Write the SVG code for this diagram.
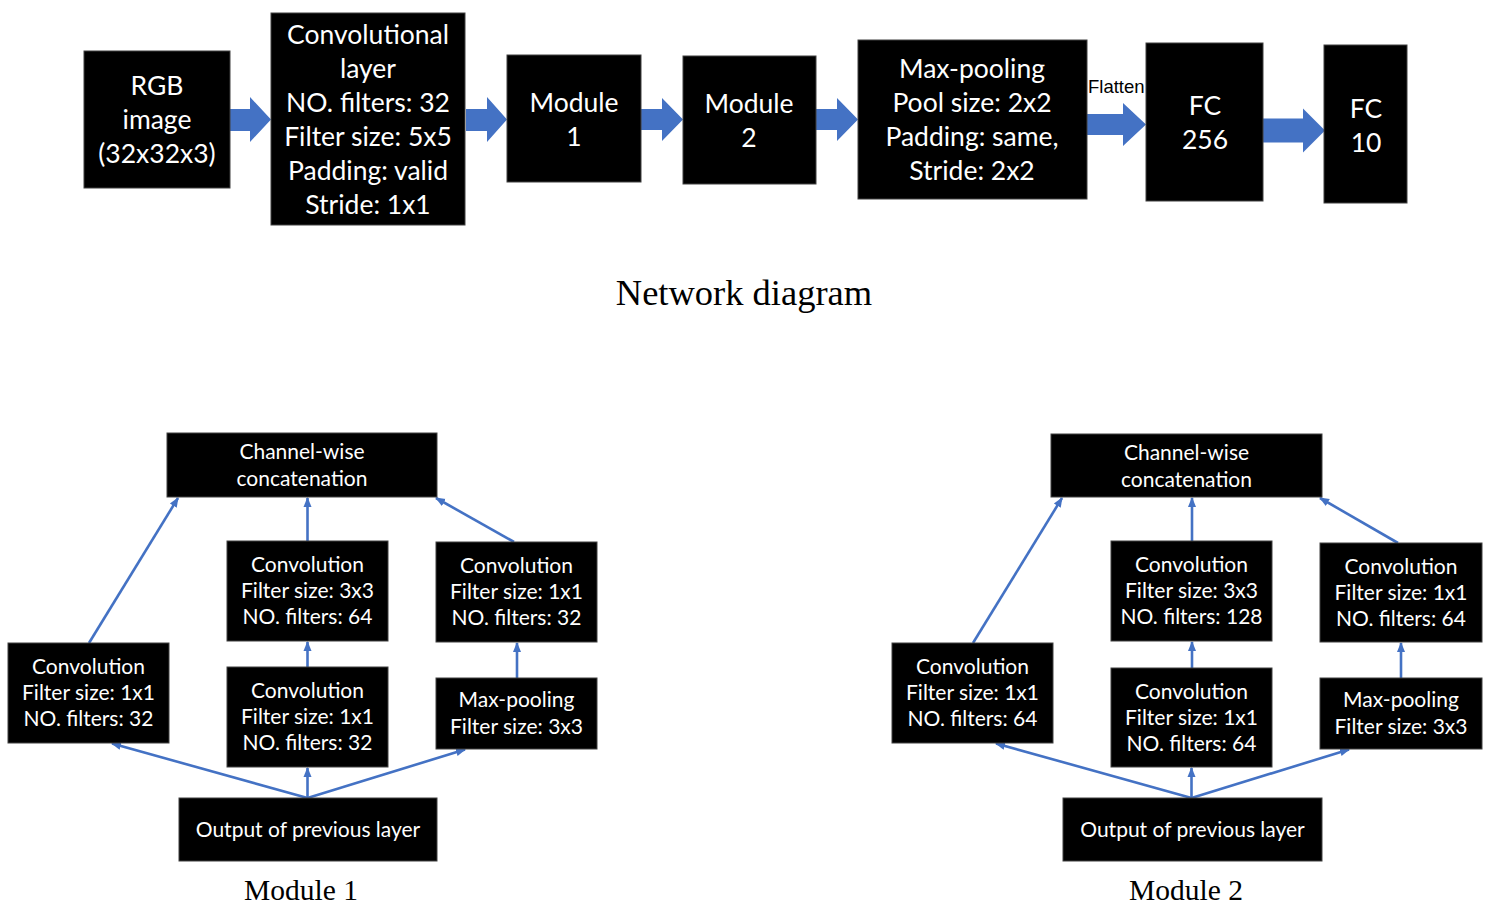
<svg xmlns="http://www.w3.org/2000/svg" width="1494" height="908" viewBox="0 0 1494 908">
<style>
.box{fill:#000;stroke:#404040;stroke-width:1}
.t{font-family:Lato,"Open Sans",sans-serif;fill:#fff;text-anchor:middle}
.big{font-size:26.5px}
.sm{font-size:21px}
.barrow{fill:#4472C4}
.con{stroke:#4472C4;stroke-width:2.6;fill:none;marker-end:url(#ah)}
.cap{font-family:"Liberation Serif",serif;fill:#000;text-anchor:middle}
</style>
<defs>
<marker id="ah" markerUnits="userSpaceOnUse" markerWidth="10" markerHeight="10" viewBox="0 0 10 10" refX="9" refY="5" orient="auto">
<path d="M0,1 L10,5 L0,9 z" fill="#4472C4"/>
</marker>
</defs>
<rect width="1494" height="908" fill="#fff"/>

<g id="connectors">
<polygon class="barrow" points="230,109 250,109 250,97 271,119.5 250,142 250,131 230,131"/>
<polygon class="barrow" points="466,109 487,109 487,97 507,119.5 487,142 487,131 466,131"/>
<polygon class="barrow" points="641,109 662,109 662,98 683,119.5 662,141 662,130 641,130"/>
<polygon class="barrow" points="816,109 837,109 837,98 858,119.5 837,141 837,130 816,130"/>
<polygon class="barrow" points="1087,114 1123,114 1123,103 1146,124.5 1123,146 1123,135 1087,135"/>
<polygon class="barrow" points="1263,118.5 1303,118.5 1303,108.5 1325,130.5 1303,152.5 1303,142.5 1263,142.5"/>
<text x="1088" y="93" font-family="'Liberation Sans',Arial,sans-serif" font-size="18.5" fill="#000">Flatten</text>

<line class="con" x1="89" y1="643" x2="178" y2="498"/>
<line class="con" x1="307.5" y1="541" x2="307.5" y2="498"/>
<line class="con" x1="514" y1="542" x2="436" y2="498"/>
<line class="con" x1="307.5" y1="667" x2="307.5" y2="642"/>
<line class="con" x1="517" y1="678" x2="517" y2="643"/>
<line class="con" x1="307.5" y1="798" x2="112" y2="743.5"/>
<line class="con" x1="307.5" y1="798" x2="307.5" y2="768"/>
<line class="con" x1="307.5" y1="798" x2="465" y2="749.5"/>

<line class="con" x1="973" y1="643" x2="1062" y2="498"/>
<line class="con" x1="1192" y1="541" x2="1192" y2="498"/>
<line class="con" x1="1398" y1="543" x2="1320" y2="498"/>
<line class="con" x1="1192" y1="668" x2="1192" y2="642"/>
<line class="con" x1="1401" y1="678" x2="1401" y2="643"/>
<line class="con" x1="1191.5" y1="798" x2="996" y2="743.5"/>
<line class="con" x1="1191.5" y1="798" x2="1191.5" y2="768"/>
<line class="con" x1="1191.5" y1="798" x2="1349" y2="749.5"/>
</g>

<g id="rgb"><rect class="box" x="84" y="51" width="146" height="137"/>
<text class="t big" x="157" y="95">RGB</text><text class="t big" x="157" y="129">image</text><text class="t big" x="157" y="163">(32x32x3)</text></g>
<g id="conv"><rect class="box" x="271" y="13" width="194" height="212"/>
<text class="t big" x="368" y="44">Convolutional</text><text class="t big" x="368" y="78">layer</text><text class="t big" x="368" y="112">NO. filters: 32</text><text class="t big" x="368" y="146">Filter size: 5x5</text><text class="t big" x="368" y="180">Padding: valid</text><text class="t big" x="368" y="214">Stride: 1x1</text></g>
<g id="module1"><rect class="box" x="507" y="55" width="134" height="127"/>
<text class="t big" x="574" y="112">Module</text><text class="t big" x="574" y="146">1</text></g>
<g id="module2"><rect class="box" x="683" y="56" width="133" height="128"/>
<text class="t big" x="749" y="113">Module</text><text class="t big" x="749" y="147">2</text></g>
<g id="maxpool"><rect class="box" x="858" y="40" width="229" height="159"/>
<text class="t big" x="972" y="78">Max-pooling</text><text class="t big" x="972" y="112">Pool size: 2x2</text><text class="t big" x="972" y="146">Padding: same,</text><text class="t big" x="972" y="180">Stride: 2x2</text></g>
<g id="fc256"><rect class="box" x="1146" y="43" width="117" height="158"/>
<text class="t big" x="1205" y="115">FC</text><text class="t big" x="1205" y="149">256</text></g>
<g id="fc10"><rect class="box" x="1324" y="45" width="83" height="158"/>
<text class="t big" x="1366" y="118">FC</text><text class="t big" x="1366" y="152">10</text></g>

<text class="cap" x="744" y="305" font-size="36.5">Network diagram</text>

<g id="m1-concat"><rect class="box" x="167" y="433" width="270" height="64"/>
<text class="t sm" x="302" y="459">Channel-wise</text><text class="t sm" x="302" y="486">concatenation</text></g>
<g id="m1-conv3"><rect class="box" x="227" y="541" width="161" height="100"/>
<text class="t sm" x="307.5" y="572">Convolution</text><text class="t sm" x="307.5" y="598">Filter size: 3x3</text><text class="t sm" x="307.5" y="624">NO. filters: 64</text></g>
<g id="m1-convr"><rect class="box" x="436" y="542" width="161" height="100"/>
<text class="t sm" x="516.5" y="573">Convolution</text><text class="t sm" x="516.5" y="599">Filter size: 1x1</text><text class="t sm" x="516.5" y="625">NO. filters: 32</text></g>
<g id="m1-convl"><rect class="box" x="8" y="643" width="161" height="100"/>
<text class="t sm" x="88.5" y="674">Convolution</text><text class="t sm" x="88.5" y="700">Filter size: 1x1</text><text class="t sm" x="88.5" y="726">NO. filters: 32</text></g>
<g id="m1-convm"><rect class="box" x="227" y="667" width="161" height="100"/>
<text class="t sm" x="307.5" y="698">Convolution</text><text class="t sm" x="307.5" y="724">Filter size: 1x1</text><text class="t sm" x="307.5" y="750">NO. filters: 32</text></g>
<g id="m1-pool"><rect class="box" x="436" y="678" width="161" height="71"/>
<text class="t sm" x="516.5" y="707">Max-pooling</text><text class="t sm" x="516.5" y="734">Filter size: 3x3</text></g>
<g id="m1-out"><rect class="box" x="179" y="798" width="258" height="63"/>
<text class="t sm" x="308" y="837">Output of previous layer</text></g>
<text class="cap" x="301" y="900" font-size="29.5">Module 1</text>

<g id="m2-concat"><rect class="box" x="1051" y="434" width="271" height="63"/>
<text class="t sm" x="1186.5" y="460">Channel-wise</text><text class="t sm" x="1186.5" y="487">concatenation</text></g>
<g id="m2-conv3"><rect class="box" x="1111" y="541" width="161" height="100"/>
<text class="t sm" x="1191.5" y="572">Convolution</text><text class="t sm" x="1191.5" y="598">Filter size: 3x3</text><text class="t sm" x="1191.5" y="624">NO. filters: 128</text></g>
<g id="m2-convr"><rect class="box" x="1320" y="543" width="162" height="99"/>
<text class="t sm" x="1401" y="574">Convolution</text><text class="t sm" x="1401" y="600">Filter size: 1x1</text><text class="t sm" x="1401" y="626">NO. filters: 64</text></g>
<g id="m2-convl"><rect class="box" x="892" y="643" width="161" height="100"/>
<text class="t sm" x="972.5" y="674">Convolution</text><text class="t sm" x="972.5" y="700">Filter size: 1x1</text><text class="t sm" x="972.5" y="726">NO. filters: 64</text></g>
<g id="m2-convm"><rect class="box" x="1111" y="668" width="161" height="99"/>
<text class="t sm" x="1191.5" y="699">Convolution</text><text class="t sm" x="1191.5" y="725">Filter size: 1x1</text><text class="t sm" x="1191.5" y="751">NO. filters: 64</text></g>
<g id="m2-pool"><rect class="box" x="1320" y="678" width="162" height="71"/>
<text class="t sm" x="1401" y="707">Max-pooling</text><text class="t sm" x="1401" y="734">Filter size: 3x3</text></g>
<g id="m2-out"><rect class="box" x="1063" y="798" width="259" height="63"/>
<text class="t sm" x="1192.5" y="837">Output of previous layer</text></g>
<text class="cap" x="1186" y="900" font-size="29.5">Module 2</text>
</svg>
